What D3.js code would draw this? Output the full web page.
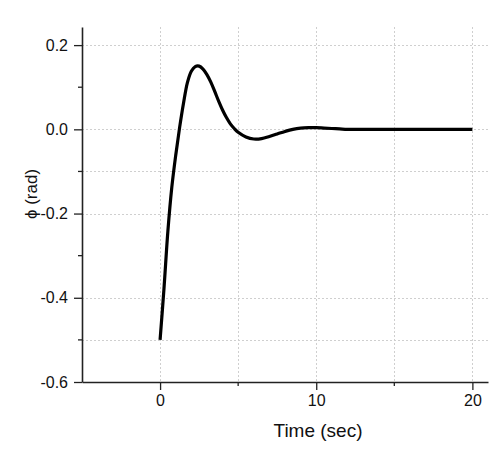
<!DOCTYPE html>
<html>
<head>
<meta charset="utf-8">
<script src="https://cdn.jsdelivr.net/npm/d3@7"></script>
<style>
  body { margin: 0; background: #fff; }
  svg { display: block; font-family: "Liberation Sans", Arial, sans-serif; }
</style>
</head>
<body>
<svg id="chart" width="499" height="450"></svg>
<script>
// time response
const timeSec = [0, 0.25, 0.5, 0.75, 1, 1.25, 1.5, 1.75, 2, 2.25, 2.5, 2.75, 3, 3.25, 3.5, 3.75,
  4, 4.25, 4.5, 4.75, 5, 5.5, 6, 6.5, 7, 7.5, 8, 8.5, 9, 9.5, 10, 10.5, 11, 11.5, 12,
  13, 14, 15, 16, 17, 18, 19, 20]
const phiRad = [-0.5, -0.378, -0.242, -0.138, -0.062, 0.004, 0.062, 0.111, 0.138, 0.149, 0.150, 0.143,
  0.130, 0.112, 0.090, 0.067, 0.046, 0.028, 0.013, 0.002, -0.007, -0.018, -0.023, -0.022, -0.017,
  -0.011, -0.005, 0.0, 0.003, 0.004, 0.004, 0.003, 0.002, 0.001, 0, 0, 0, 0, 0, 0, 0, 0, 0]

const xMajor = [0, 10, 20]
const xMinor = [5, 15]
const yMajor = [-0.6, -0.4, -0.2, 0.0, 0.2]
const yMinor = [-0.5, -0.3, -0.1, 0.1]
const xGrid = [0, 5, 10, 15, 20]
const yGrid = [0.2, 0.0, -0.1, -0.2, -0.4, -0.5]

const svg = d3.select('#chart')
const plotLeft = 82
const plotRight = 488
const plotTop = 27
const plotBottom = 382

const xScale = d3.scaleLinear().domain([-5, 21]).range([plotLeft, plotRight])
const yScale = d3.scaleLinear().domain([-0.6, 0.243]).range([plotBottom, plotTop])

const fmtY = d => d3.format('.1f')(d).replace('−', '-')

// grid
const grid = svg.append('g')
  .attr('stroke', '#cfcfcf')
  .attr('stroke-width', 1)
  .attr('stroke-dasharray', '2,2')
grid.selectAll('.gx').data(xGrid).enter().append('line')
  .attr('x1', d => Math.round(xScale(d)) + 0.5)
  .attr('x2', d => Math.round(xScale(d)) + 0.5)
  .attr('y1', plotTop)
  .attr('y2', plotBottom)
grid.selectAll('.gy').data(yGrid).enter().append('line')
  .attr('x1', plotLeft)
  .attr('x2', plotRight)
  .attr('y1', d => Math.round(yScale(d)) + 0.5)
  .attr('y2', d => Math.round(yScale(d)) + 0.5)

// curve
const line = d3.line()
  .x((d, i) => xScale(timeSec[i]))
  .y(d => yScale(d))
  .curve(d3.curveCatmullRom.alpha(0.5))

svg.append('path')
  .datum(phiRad)
  .attr('d', line)
  .attr('fill', 'none')
  .attr('stroke', '#000')
  .attr('stroke-width', 3.2)
  .attr('stroke-linejoin', 'round')

// x axis
const xAxis = d3.axisBottom(xScale)
  .tickValues(xMajor)
  .tickSize(8)
  .tickSizeOuter(0)
  .tickPadding(5)
  .tickFormat(d3.format('d'))

function customXAxis (g) {
  g.call(xAxis)
  g.select('.domain').attr('stroke', '#222').attr('stroke-width', 1.6)
  g.selectAll('.tick line').attr('stroke', '#222').attr('stroke-width', 1.3)
  g.selectAll('.tick text')
    .style('font-size', '16px')
    .style('fill', '#111')
  g.selectAll('.minor').data(xMinor).enter().append('line')
    .attr('x1', d => xScale(d))
    .attr('x2', d => xScale(d))
    .attr('y1', 0)
    .attr('y2', 4)
    .attr('stroke', '#222')
    .attr('stroke-width', 1.3)
}

svg.append('g')
  .attr('transform', `translate(0,${plotBottom})`)
  .call(customXAxis)

// y axis
const yAxis = d3.axisLeft(yScale)
  .tickValues(yMajor)
  .tickSize(8)
  .tickSizeOuter(0)
  .tickPadding(6)
  .tickFormat(fmtY)

function customYAxis (g) {
  g.call(yAxis)
  g.select('.domain').attr('stroke', '#222').attr('stroke-width', 1.6)
  g.selectAll('.tick line').attr('stroke', '#222').attr('stroke-width', 1.3)
  g.selectAll('.tick text')
    .style('font-size', '16px')
    .style('fill', '#111')
  g.selectAll('.minor').data(yMinor).enter().append('line')
    .attr('x1', 0)
    .attr('x2', -4)
    .attr('y1', d => yScale(d))
    .attr('y2', d => yScale(d))
    .attr('stroke', '#222')
    .attr('stroke-width', 1.3)
}

svg.append('g')
  .attr('transform', `translate(${plotLeft},0)`)
  .call(customYAxis)

// axis titles
svg.append('text')
  .attr('x', 318)
  .attr('y', 437)
  .attr('text-anchor', 'middle')
  .style('font-size', '19px')
  .style('fill', '#111')
  .text('Time (sec)')

svg.append('text')
  .attr('transform', 'translate(37,194) rotate(-90)')
  .attr('text-anchor', 'middle')
  .style('font-size', '17px')
  .style('fill', '#111')
  .text('ϕ (rad)')
</script>
</body>
</html>
